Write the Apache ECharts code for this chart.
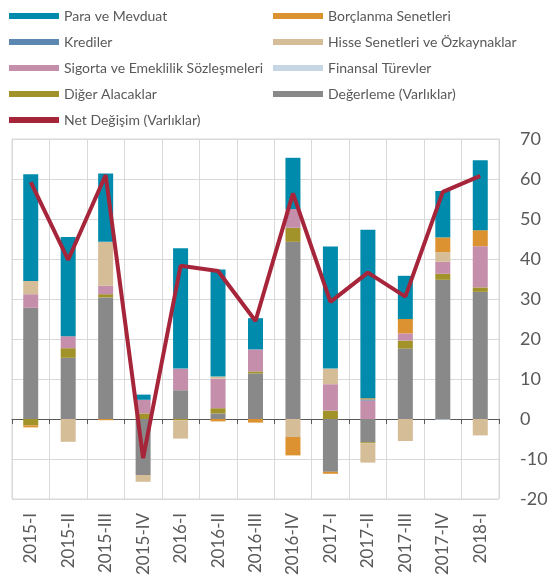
<!DOCTYPE html>
<html>
<head>
<meta charset="utf-8">
<script src="https://cdn.jsdelivr.net/npm/echarts@6/dist/echarts.min.js"></script>
<style>
html,body{margin:0;padding:0;background:#fff;}
#c{width:547px;height:585px;}
</style>
</head>
<body>
<div id="c"></div>
<script>
const categories = ['2015-I','2015-II','2015-III','2015-IV','2016-I','2016-II','2016-III','2016-IV','2017-I','2017-II','2017-III','2017-IV','2018-I'];
const degerleme = [27.8, 15.3, 30.4, -14.0, 7.2, 1.4, 11.4, 44.3, -13.2, -5.8, 17.6, 34.8, 31.8];
const digerAlacaklar = [-1.6, 2.4, 0.8, 1.4, -0.3, 1.3, 0.5, 3.5, 2.1, -0.3, 2.0, 1.5, 1.1];
const finansalTurevler = [0, 0, 0, 0, 0, 0, 0, 0, 0, 0, 0, -0.2, 0];
const sigorta = [3.4, 3.0, 2.1, 3.4, 5.4, 7.4, 5.5, 4.7, 6.6, 4.6, 1.8, 3.0, 10.3];
const hisse = [3.3, -5.7, 11.0, -1.7, -4.6, 0.5, 0, -4.5, 3.9, -4.8, -5.5, 2.4, -4.1];
const krediler = [0, 0, 0, 0, 0, 0, 0, 0, 0, 0.3, 0, 0, 0];
const borclanma = [-0.5, 0, -0.3, 0, 0, -0.6, -0.9, -4.6, -0.5, 0.3, 3.6, 3.7, 4.0];
const paraMevduat = [26.7, 24.8, 17.1, 1.3, 30.1, 26.8, 7.8, 12.8, 30.5, 42.1, 10.8, 11.6, 17.5];
const netDegisim = [59.2, 39.8, 61.0, -9.8, 38.3, 37.0, 24.5, 56.4, 29.3, 36.6, 30.6, 56.8, 60.8];
const yTicks = {min: -20, max: 70, interval: 10};

const FONT = 'Lato';
const TXT = '#595959';
const colors = {
  'Para ve Mevduat': '#008BAC',
  'Borçlanma Senetleri': '#DD9231',
  'Krediler': '#5B87B1',
  'Hisse Senetleri ve Özkaynaklar': '#D5BD98',
  'Sigorta ve Emeklilik Sözleşmeleri': '#C58FAC',
  'Finansal Türevler': '#C6D6E5',
  'Diğer Alacaklar': '#A1922A',
  'Değerleme (Varlıklar)': '#898989',
  'Net Değişim (Varlıklar)': '#A6253A'
};
function bar(name, data){
  return {name, type:'bar', stack:'s', data, barWidth:15,
    itemStyle:{color:colors[name]}, emphasis:{disabled:true}};
}
const legendCommon = {
  orient:'vertical', itemWidth:50, itemHeight:6, itemGap:10, icon:'rect', padding:0,
  textStyle:{color:TXT, fontFamily:FONT, fontSize:14, lineHeight:16},
  selectedMode:false
};
const chart = echarts.init(document.getElementById('c'), null, {renderer:'canvas'});
chart.setOption({
  animation:false,
  textStyle:{fontFamily:FONT},
  legend:[
    Object.assign({left:9, top:8, data:['Para ve Mevduat','Krediler','Sigorta ve Emeklilik Sözleşmeleri','Diğer Alacaklar','Net Değişim (Varlıklar)']}, legendCommon),
    Object.assign({left:273, top:8, data:['Borçlanma Senetleri','Hisse Senetleri ve Özkaynaklar','Finansal Türevler','Değerleme (Varlıklar)']}, legendCommon)
  ],
  grid:{left:12, right:48, top:139, bottom:86, show:true, borderColor:'#D9D9D9', borderWidth:1, outerBoundsMode:'none'},
  xAxis:[{
    type:'category', data:categories, position:'bottom',
    axisLine:{show:false, onZero:false}, axisTick:{show:false},
    splitLine:{show:true, interval:0, lineStyle:{color:'#D9D9D9', width:1}},
    axisLabel:{rotate:90, margin:14, interval:0, fontSize:17, color:TXT, fontFamily:FONT}
  },{
    type:'category', data:categories, position:'bottom',
    axisLine:{show:true, onZero:true, lineStyle:{color:'#595959', width:1}},
    axisTick:{show:true, length:5, interval:0, lineStyle:{color:'#595959'}},
    splitLine:{show:false}, axisLabel:{show:false}
  }],
  yAxis:{
    type:'value', position:'right', min:yTicks.min, max:yTicks.max, interval:yTicks.interval,
    axisLine:{show:false}, axisTick:{show:false},
    splitLine:{lineStyle:{color:'#D9D9D9', width:1}},
    axisLabel:{margin:21, fontSize:18, color:TXT, fontFamily:FONT, align:'left'}
  },
  series:[
    bar('Değerleme (Varlıklar)', degerleme),
    bar('Diğer Alacaklar', digerAlacaklar),
    bar('Finansal Türevler', finansalTurevler),
    bar('Sigorta ve Emeklilik Sözleşmeleri', sigorta),
    bar('Hisse Senetleri ve Özkaynaklar', hisse),
    bar('Krediler', krediler),
    bar('Borçlanma Senetleri', borclanma),
    bar('Para ve Mevduat', paraMevduat),
    {name:'Net Değişim (Varlıklar)', type:'line', data:netDegisim, symbol:'none',
     lineStyle:{color:colors['Net Değişim (Varlıklar)'], width:4},
     itemStyle:{color:colors['Net Değişim (Varlıklar)']}, z:10}
  ]
});
</script>
</body>
</html>
